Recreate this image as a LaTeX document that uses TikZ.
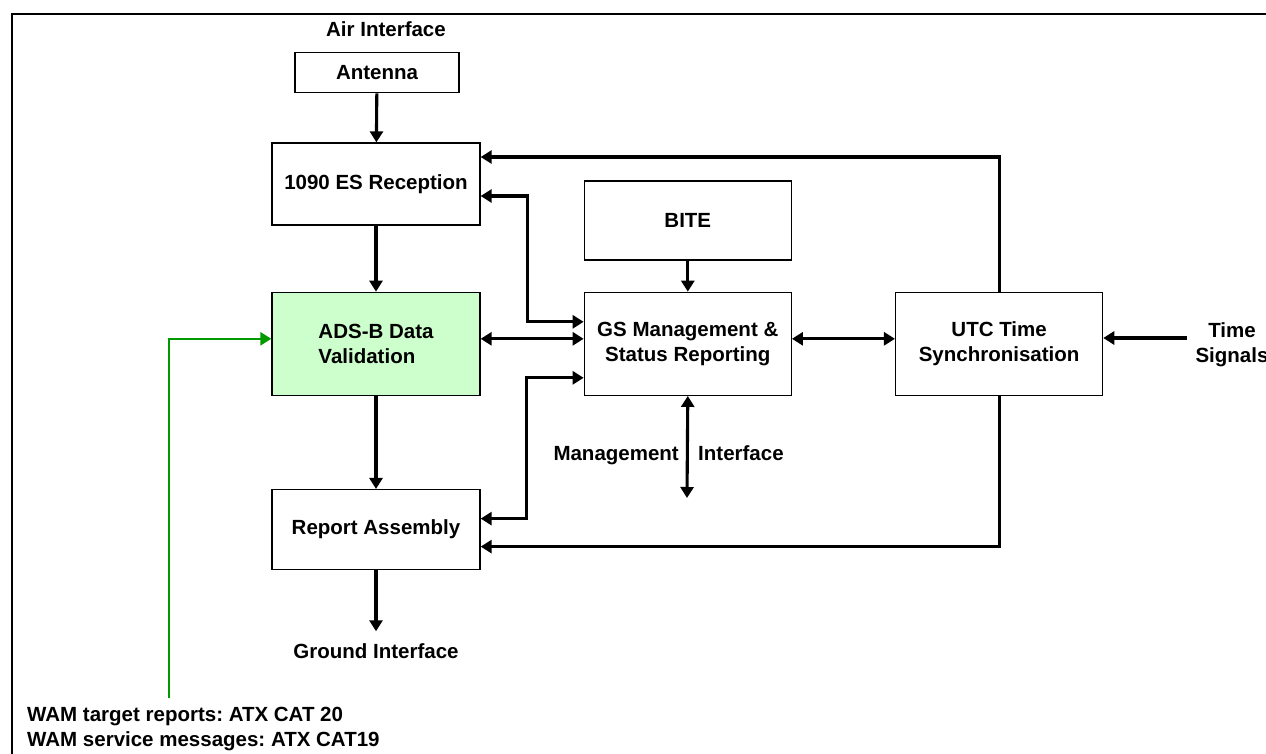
\documentclass[tikz,border=0pt]{standalone}
\usepackage{fontspec}
\setmainfont{Liberation Sans}
\usetikzlibrary{arrows.meta,positioning}
\definecolor{valgreen}{HTML}{CCFFCC}
\definecolor{wamgreen}{HTML}{009900}
\frenchspacing

\begin{document}
\begin{tikzpicture}[
  x=1pt, y=-1pt,
  font=\fontsize{20.5}{25}\selectfont\bfseries,
  node distance=67pt,
  block/.style={rectangle, draw=black, line width=1.3pt, align=center, inner sep=0pt, minimum width=208pt, minimum height=82pt},
  txt/.style={inner sep=2pt, align=center},
  arrow/.style={-{Triangle[length=11pt,width=13pt]}, line width=3.1pt},
  dblarrow/.style={{Triangle[length=11pt,width=13pt]}-{Triangle[length=11pt,width=13pt]}, line width=3.1pt},
  wamarrow/.style={-{Triangle[length=11pt,width=13pt]}, line width=2.6pt, draw=wamgreen}
]
\useasboundingbox (0,0) rectangle (1266,753);
\clip (0,0) rectangle (1266,753);
\draw[line width=2pt] (12,14) rectangle (1300,800);

% main column
\node[block] (rec) at (376,184) {1090 ES Reception};
\node[block, minimum width=164pt, minimum height=40pt, above=49pt of rec, xshift=1pt] (ant) {Antenna};
\node[block, below=66pt of rec, minimum height=103pt, fill=valgreen, align=left] (val) {ADS-B Data\\Validation};
\node[block, below=93pt of val, minimum height=80pt] (rpt) {Report Assembly};

% management and timing
\node[block, right=103pt of val, minimum width=207pt, minimum height=103pt] (gs) {GS Management \&\\Status Reporting};
\node[block, above=31pt of gs, minimum width=207pt, minimum height=79pt] (bite) {BITE};
\node[block, right=103pt of gs, minimum width=207pt, minimum height=103pt] (utc) {UTC Time\\Synchronisation};

% free texts
\node[txt] (air) at (386,29) {Air Interface};
\node[txt] (gnd) at (376,651) {Ground Interface};
\node[txt, anchor=base east] (mgl) at (681,460) {Management};
\node[txt, anchor=base west] (mgr) at (696,460) {Interface};
\node[txt] (tsig) at (1232,345) {Time\\Signals};
\node[txt, anchor=west, align=left] (wam) at (25,729) {WAM target reports: ATX CAT 20\\WAM service messages: ATX CAT19};

\coordinate (mgend) at (687,498);
\coordinate (tsin) at (1187,338);
\coordinate (wamup) at (169,698);

\draw[arrow] (ant) -- (rec);
\draw[arrow] (rec) -- (val);
\draw[arrow] (val) -- (rpt);
\draw[arrow] (rpt.south) -- ([yshift=10pt]gnd.north);
\draw[arrow] (bite) -- (gs);
\draw[dblarrow] ([yshift=5pt]val.east) -- ([yshift=5pt]gs.west);
\draw[dblarrow] ([yshift=5pt]gs.east) -- ([yshift=5pt]utc.west);
\draw[dblarrow] ([yshift=-12pt]rec.east) -- ++(47pt,0) |- ([yshift=22pt]gs.west);
\draw[dblarrow] ([yshift=-34pt]gs.west) -- ++(-57pt,0) |- ([yshift=11pt]rpt.east);
\draw[arrow] (utc.north) |- ([yshift=27pt]rec.east);
\draw[arrow] (utc.south) |- ([yshift=-17pt]rpt.east);
\draw[dblarrow] (gs.south) -- (mgend);
\draw[arrow] (tsin) -- (tsin -| utc.east);
\draw[wamarrow] (wamup) |- ([yshift=5pt]val.west);
\end{tikzpicture}
\end{document}
